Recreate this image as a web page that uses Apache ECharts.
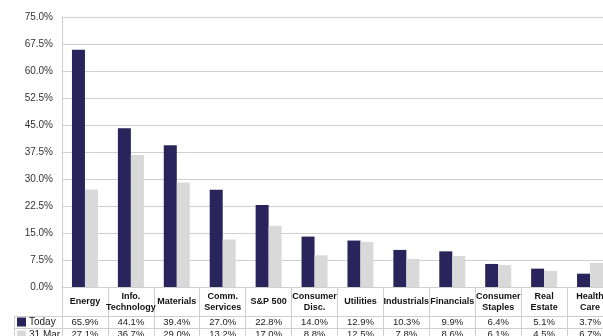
<!DOCTYPE html>
<html>
<head>
<meta charset="utf-8">
<script src="https://cdn.jsdelivr.net/npm/echarts@6/dist/echarts.min.js"></script>
<style>
  html, body { margin: 0; padding: 0; background: #fff; }
  #chart { width: 603px; height: 336px; }
</style>
</head>
<body>
<div id="chart"></div>
<script>
const categories = [
  'Energy', 'Info.\nTechnology', 'Materials', 'Comm.\nServices', 'S&P 500',
  'Consumer\nDisc.', 'Utilities', 'Industrials', 'Financials',
  'Consumer\nStaples', 'Real\nEstate', 'Health\nCare'
]
const today = [65.9, 44.1, 39.4, 27.0, 22.8, 14.0, 12.9, 10.3, 9.9, 6.4, 5.1, 3.7]
const mar31 = [27.1, 36.7, 29.0, 13.2, 17.0, 8.8, 12.5, 7.8, 8.6, 6.1, 4.5, 6.7]
const yTicks = [0, 7.5, 15, 22.5, 30, 37.5, 45, 52.5, 60, 67.5, 75]

const font = 'Liberation Sans, Arial, Helvetica, sans-serif'
const lineColor = '#cfcfcf'
const navy = '#29245c'
const grey = '#d9d9d9'

const chart = echarts.init(document.getElementById('chart'))

function valueRow(values, offset) {
  return {
    type: 'category',
    data: categories,
    position: 'bottom',
    offset: offset,
    gridIndex: 0,
    axisLine: { show: true, lineStyle: { color: lineColor } },
    axisTick: { show: false },
    axisLabel: {
      interval: 0,
      margin: 1,
      verticalAlign: 'top',
      fontFamily: font,
      fontSize: 9.5,
      color: '#222',
      formatter: (v, i) => values[i].toFixed(1) + '%'
    }
  }
}

chart.setOption({
  animation: false,
  textStyle: { fontFamily: font },
  grid: {
    left: 62, top: 17, width: 551, height: 270,
    containLabel: false, outerBoundsMode: 'none'
  },
  legend: {
    orient: 'vertical',
    left: 17,
    top: 317,
    height: 60,
    itemWidth: 9,
    itemHeight: 9,
    itemGap: 3,
    icon: 'rect',
    selectedMode: false,
    padding: 0,
    textStyle: { fontFamily: font, fontSize: 10, color: '#222', padding: [0, 0, 0, -2] },
    data: ['Today', '31 Mar']
  },
  xAxis: [
    {
      type: 'category',
      data: categories,
      axisLine: { show: true, lineStyle: { color: lineColor } },
      axisTick: { show: true, interval: 0, length: 49, lineStyle: { color: lineColor } },
      axisLabel: {
        interval: 0,
        margin: 15,
        verticalAlign: 'middle',
        fontFamily: font,
        fontSize: 9,
        fontWeight: 'bold',
        lineHeight: 11,
        color: '#111'
      }
    },
    valueRow(today, 29),
    valueRow(mar31, 41)
  ],
  yAxis: {
    type: 'value',
    min: 0,
    max: 75,
    interval: 7.5,
    axisLine: { show: true, lineStyle: { color: lineColor } },
    axisTick: { show: false },
    splitLine: { lineStyle: { color: lineColor } },
    axisLabel: {
      margin: 9,
      fontFamily: font,
      fontSize: 10,
      color: '#333',
      formatter: v => (yTicks.includes(v) ? v.toFixed(1) + '%' : '')
    }
  },
  graphic: [
    { type: 'line', shape: { x1: 14, y1: 316.5, x2: 62, y2: 316.5 }, style: { stroke: lineColor } },
    { type: 'line', shape: { x1: 14, y1: 328.5, x2: 62, y2: 328.5 }, style: { stroke: lineColor } },
    { type: 'line', shape: { x1: 14.5, y1: 316, x2: 14.5, y2: 336 }, style: { stroke: lineColor } }
  ],
  series: [
    {
      name: 'Today',
      type: 'bar',
      data: today,
      barWidth: 13,
      barGap: '0%',
      itemStyle: { color: navy }
    },
    {
      name: '31 Mar',
      type: 'bar',
      data: mar31,
      barWidth: 13,
      itemStyle: { color: grey }
    }
  ]
})
</script>
</body>
</html>
